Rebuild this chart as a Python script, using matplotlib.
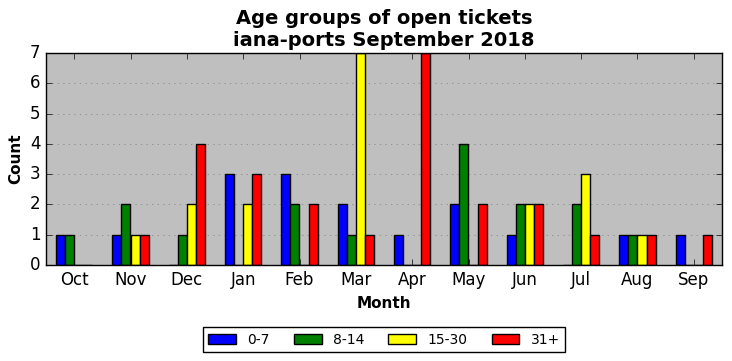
import numpy as np
import matplotlib.pyplot as plt

plt.style.use('classic')

months = ["Oct", "Nov", "Dec", "Jan", "Feb", "Mar", "Apr", "May", "Jun", "Jul", "Aug", "Sep"]
age_0_7 = [1, 1, 0, 3, 3, 2, 1, 2, 1, 0, 1, 1]
age_8_14 = [1, 2, 1, 0, 2, 1, 0, 4, 2, 2, 1, 0]
age_15_30 = [0, 1, 2, 2, 0, 7, 0, 0, 2, 3, 1, 0]
age_31_plus = [0, 1, 4, 3, 2, 1, 7, 2, 2, 1, 1, 1]

series = [("0-7", age_0_7, "blue"), ("8-14", age_8_14, "green"),
          ("15-30", age_15_30, "yellow"), ("31+", age_31_plus, "red")]

fig = plt.figure(figsize=(7.32, 3.61), dpi=100)
ax = fig.add_axes([46 / 732, 96 / 361, 676 / 732, 212 / 361])
ax.set_facecolor("#bfbfbf")

x = np.arange(len(months))
width = 0.16
for i, (label, vals, color) in enumerate(series):
    ax.bar(x + (i - 1.5) * width, vals, width, color=color, edgecolor="black",
           linewidth=1, label=label, align="center")

ax.set_xlim(-0.5, len(months) - 0.5)
ax.set_ylim(0, 7)
ax.set_xticks(x)
ax.set_xticklabels(months, fontsize=12)
ax.tick_params(axis="y", labelsize=12)
ax.yaxis.grid(True, linestyle=":", color="#808080")
ax.xaxis.grid(False)
ax.set_axisbelow(True)

ax.set_xlabel("Month", fontsize=11, fontweight="bold")
ax.set_ylabel("Count", fontsize=11, fontweight="bold")
ax.set_title("Age groups of open tickets\niana-ports September 2018",
             fontsize=14, fontweight="bold")

ax.legend(loc="upper center", bbox_to_anchor=(0.5, -0.26), ncol=4,
          fontsize=10, frameon=True, fancybox=False, columnspacing=1.75)

fig.savefig("out.png", dpi=100, facecolor="white")
